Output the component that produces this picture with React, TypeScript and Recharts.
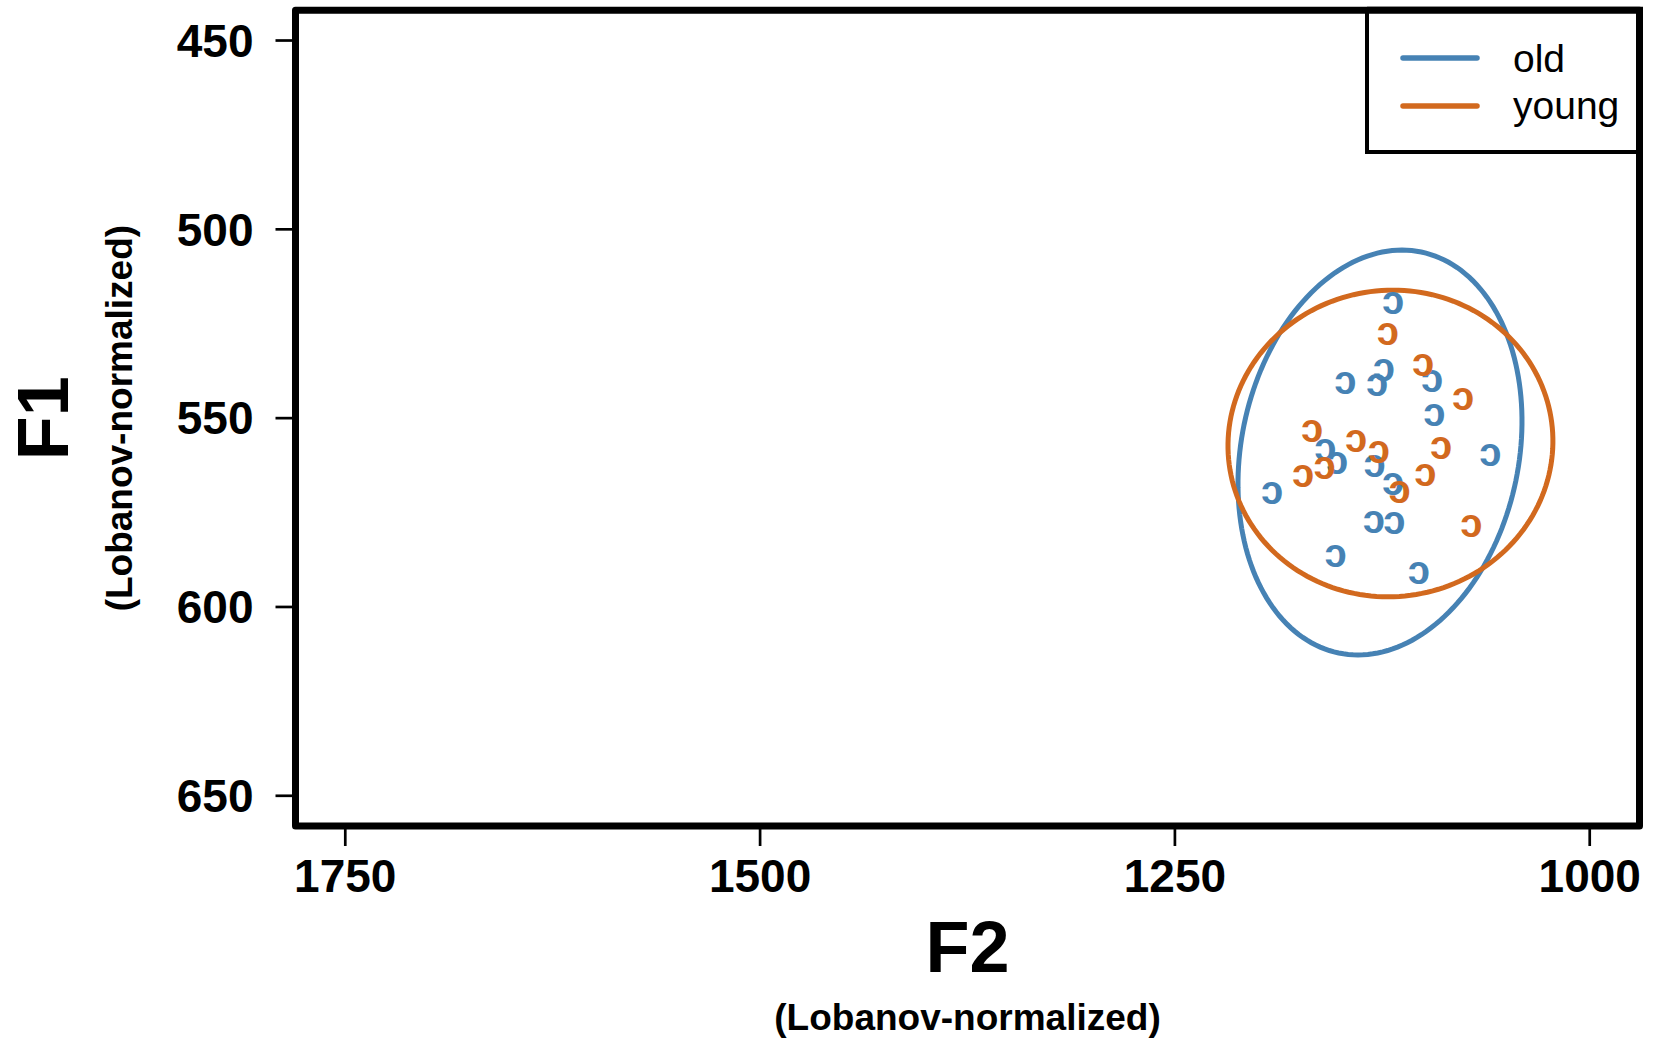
import { ScatterChart, Scatter, XAxis, YAxis, ReferenceArea, Label } from "recharts";

// F2 / F1 values of each token (Lobanov-normalized)
const oldF2 = [1118.5, 1124.1, 1128.1, 1147.2, 1095.0, 1093.6, 1159.3, 1152.2, 1129.7, 1059.8, 1118.5, 1191.4, 1130.1, 1117.7, 1153.2, 1103.0];
const oldF1 = [519.6, 537.3, 541.3, 540.8, 540.4, 549.2, 558.5, 562.0, 562.9, 559.8, 567.7, 570.1, 577.7, 578.0, 586.7, 591.1];
const youngF2 = [1121.7, 1100.4, 1076.3, 1167.3, 1140.8, 1127.1, 1089.5, 1159.7, 1172.7, 1099.0, 1114.5, 1071.4];
const youngF1 = [527.8, 536.0, 545.0, 553.6, 556.3, 559.2, 558.0, 563.3, 565.5, 565.1, 569.8, 578.6];

// ellipse: centre + a*cos(t) + b*sin(t), a and b are conjugate half-diameters in data units
const oldEllipse = { cx: 1126.4, cy: 559.1, a: [-84.55, 0], b: [-13.26, -53.6] };
const youngEllipse = { cx: 1120.1, cy: 556.7, a: [-97.9, 0], b: [-1.5, -40.6] };

const xTicks = [1750, 1500, 1250, 1000];
const yTicks = [450, 500, 550, 600, 650];
const xDomain = [970, 1780];
const yDomain = [442, 658];

const OLD = "#4682B4";
const YOUNG = "#D2691E";
const FONT = "'Liberation Sans', Arial, Helvetica, sans-serif";

const series = [
  { name: "old", color: OLD, f2: oldF2, f1: oldF1, ell: oldEllipse },
  { name: "young", color: YOUNG, f2: youngF2, f1: youngF1, ell: youngEllipse },
];

const toPoints = (f2: number[], f1: number[]) => f2.map((x, i) => ({ f2: x, f1: f1[i] }));

const ellipsePoints = (e: typeof oldEllipse) => {
  const pts = [];
  for (let i = 0; i <= 180; i++) {
    const t = (i / 180) * Math.PI * 2;
    pts.push({
      f2: e.cx + e.a[0] * Math.cos(t) + e.b[0] * Math.sin(t),
      f1: e.cy + e.a[1] * Math.cos(t) + e.b[1] * Math.sin(t),
    });
  }
  return pts;
};

const glyph = (color: string) => (props: any) => {
  const { cx, cy } = props;
  if (cx == null || cy == null) return <g />;
  return (
    <text x={cx} y={cy + 10.4} textAnchor="middle" fill={color} fontSize={40} fontWeight={700} fontFamily={FONT}>
      ɔ
    </text>
  );
};

const tickStyle = { fill: "#000", fontSize: 46, fontWeight: 700, fontFamily: FONT };

function XTitle(props: any) {
  const vb = props.viewBox || { x: 295.5, y: 826, width: 1344 };
  const cx = vb.x + vb.width / 2;
  return (
    <g fontFamily={FONT} fontWeight={700} fill="#000" textAnchor="middle">
      <text x={cx} y={vb.y + 146} fontSize={72}>F2</text>
      <text x={cx} y={vb.y + 204} fontSize={37}>(Lobanov-normalized)</text>
    </g>
  );
}

function YTitle(props: any) {
  const vb = props.viewBox || { x: 0, y: 10.3, height: 816 };
  const cy = vb.y + vb.height / 2;
  return (
    <g fontFamily={FONT} fontWeight={700} fill="#000" textAnchor="middle">
      <text x={68} y={cy} fontSize={72} transform={`rotate(-90, 68, ${cy})`}>F1</text>
      <text x={132} y={cy} fontSize={37} transform={`rotate(-90, 132, ${cy})`}>(Lobanov-normalized)</text>
    </g>
  );
}

export default function App() {
  return (
    <div style={{ position: "absolute", left: 0, top: 0, width: 1653, height: 1038, background: "#fff" }}>
      <ScatterChart width={1653} height={1038} margin={{ top: 10.3, right: 13.5, bottom: 0, left: 0 }}>
        <XAxis
          type="number"
          dataKey="f2"
          domain={xDomain}
          reversed
          allowDataOverflow
          ticks={xTicks}
          interval={0}
          height={212}
          axisLine={false}
          tickSize={20}
          tickMargin={13}
          tickLine={{ stroke: "#000", strokeWidth: 2.7 }}
          tick={tickStyle}
        >
          <Label content={<XTitle />} />
        </XAxis>
        <YAxis
          type="number"
          dataKey="f1"
          domain={yDomain}
          reversed
          allowDataOverflow
          ticks={yTicks}
          interval={0}
          width={295.5}
          axisLine={false}
          tickSize={20}
          tickMargin={22}
          tickLine={{ stroke: "#000", strokeWidth: 2.7 }}
          tick={tickStyle}
        >
          <Label content={<YTitle />} />
        </YAxis>

        {series.map((s) => (
          <Scatter
            key={s.name + "-ellipse"}
            data={ellipsePoints(s.ell)}
            line={{ stroke: s.color, strokeWidth: 5 }}
            shape={() => <g />}
            legendType="none"
            isAnimationActive={false}
          />
        ))}
        {series.map((s) => (
          <Scatter
            key={s.name}
            name={s.name}
            data={toPoints(s.f2, s.f1)}
            shape={glyph(s.color)}
            isAnimationActive={false}
          />
        ))}

        <ReferenceArea
          x1={xDomain[0]}
          x2={xDomain[1]}
          y1={yDomain[0]}
          y2={yDomain[1]}
          fill="none"
          stroke="#000"
          strokeWidth={7}
          strokeLinejoin="round"
          ifOverflow="visible"
        />
      </ScatterChart>

      {/* legend box, top right inside the plot frame */}
      <svg width={1653} height={1038} style={{ position: "absolute", left: 0, top: 0, pointerEvents: "none" }}>
        <rect x={1367} y={10.3} width={272.5} height={141.7} fill="#fff" stroke="#000" strokeWidth={4} />
        {series.map((s, i) => (
          <g key={s.name}>
            <line x1={1403} y1={58 + i * 48} x2={1477} y2={58 + i * 48} stroke={s.color} strokeWidth={5.5} strokeLinecap="round" />
            <text x={1513} y={72 + i * 47} fontSize={39} fontFamily={FONT} fill="#000">
              {s.name}
            </text>
          </g>
        ))}
        <path d="M 1367 10.3 H 1639.5 V 152" fill="none" stroke="#000" strokeWidth={7} />
      </svg>
    </div>
  );
}
